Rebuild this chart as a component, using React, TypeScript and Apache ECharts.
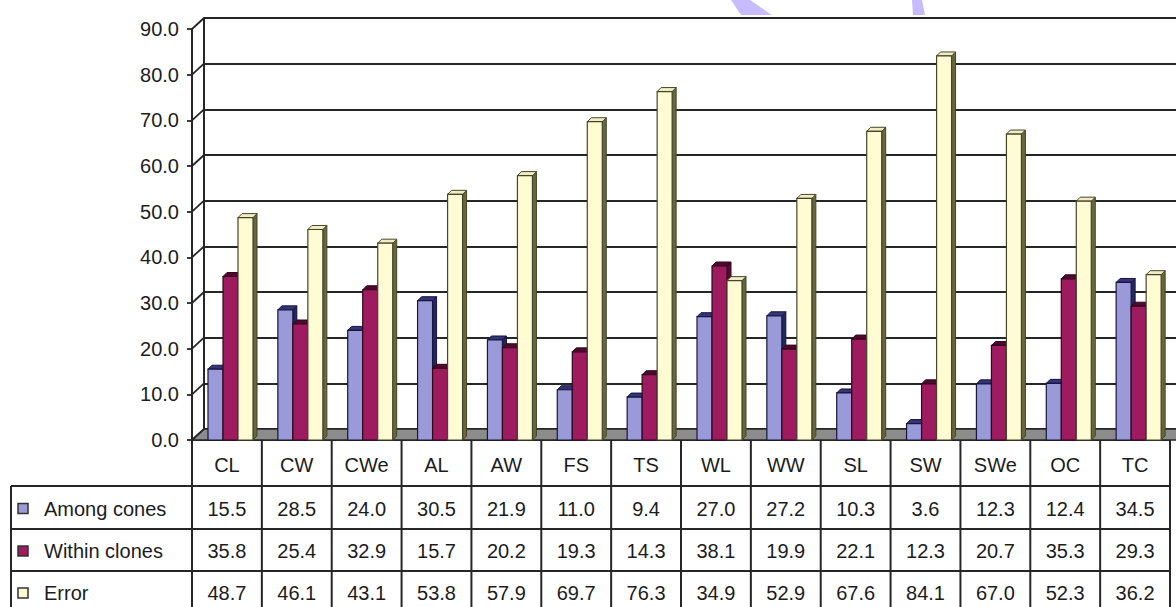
import React, { useEffect, useRef } from "react";
import * as echarts from "echarts";

const categories = ["CL", "CW", "CWe", "AL", "AW", "FS", "TS", "WL", "WW", "SL", "SW", "SWe", "OC", "TC"];
const seriesNames = ["Among cones", "Within clones", "Error"];
const amongCones = [15.5, 28.5, 24.0, 30.5, 21.9, 11.0, 9.4, 27.0, 27.2, 10.3, 3.6, 12.3, 12.4, 34.5];
const withinClones = [35.8, 25.4, 32.9, 15.7, 20.2, 19.3, 14.3, 38.1, 19.9, 22.1, 12.3, 20.7, 35.3, 29.3];
const errorVals = [48.7, 46.1, 43.1, 53.8, 57.9, 69.7, 76.3, 34.9, 52.9, 67.6, 84.1, 67.0, 52.3, 36.2];
const yTicks = [0, 10, 20, 30, 40, 50, 60, 70, 80, 90];

const allSeries = [amongCones, withinClones, errorVals];

const FONT = "Liberation Sans, Arial, Helvetica, sans-serif";
const LINE = "#262626";

const faces = [
  { front: "#9a9ad9", top: "#34347a", side: "#262660", stroke: "#16163e" },
  { front: "#9d1b5e", top: "#4e0a2e", side: "#520b30", stroke: "#33061d" },
  { front: "#fffbd3", top: "#f1edc2", side: "#67673f", stroke: "#45452a" },
];

const DX = 12; // back-wall offset
const DY = 11;
const BW = 15; // bar width
const BOFF = 16; // first bar offset from band start
const BD = 4; // bar depth

function barRenderer(k: number) {
  return (params: any, api: any) => {
    const i = api.value(0);
    const v = api.value(1);
    const top = api.coord([i, v]);
    const base = api.coord([i, 0]);
    const band = api.size([1, 0])[0];
    const x = top[0] - band / 2 + BOFF + k * BW;
    const yt = top[1];
    const yb = base[1];
    const f = faces[k];
    return {
      type: "group",
      children: [
        {
          type: "polygon",
          shape: { points: [[x + BW, yt], [x + BW + BD, yt - BD], [x + BW + BD, yb - BD], [x + BW, yb]] },
          style: { fill: f.side, stroke: f.stroke, lineWidth: 1 },
        },
        {
          type: "polygon",
          shape: { points: [[x, yt], [x + BD, yt - BD], [x + BW + BD, yt - BD], [x + BW, yt]] },
          style: { fill: f.top, stroke: f.stroke, lineWidth: 1 },
        },
        {
          type: "rect",
          shape: { x, y: yt, width: BW, height: yb - yt },
          style: { fill: f.front, stroke: f.stroke, lineWidth: 1.2 },
        },
      ],
    };
  };
}

function frameRenderer(params: any, api: any) {
  const cs = params.coordSys;
  const x0 = cs.x;
  const yb = cs.y + cs.height;
  const W = api.getWidth();
  const children: any[] = [
    {
      type: "polygon",
      shape: { points: [[x0, yb], [x0 + DX, yb - DY], [W + 5, yb - DY], [W + 5, yb]] },
      style: { fill: "#8c8c8c", stroke: LINE, lineWidth: 1.5 },
    },
  ];
  yTicks.forEach((t) => {
    const y = api.coord([0, t])[1];
    children.push({
      type: "line",
      shape: { x1: x0, y1: y, x2: x0 + DX, y2: y - DY },
      style: { stroke: LINE, lineWidth: 1.8 },
    });
  });
  return { type: "group", children };
}

const rowTops = [486, 529, 571, 613];

function tableRenderer(params: any, api: any) {
  const i = api.value(0);
  const cs = params.coordSys;
  const yb = cs.y + cs.height;
  const center = api.coord([i, 0]);
  const band = api.size([1, 0])[0];
  const left = center[0] - band / 2;
  const right = left + band;
  const cx = center[0];
  const children: any[] = [];
  const txt = (text: string, x: number, y: number, align = "center") => ({
    type: "text",
    style: {
      text,
      x,
      y,
      fill: "#1c1c1c",
      fontSize: 20,
      fontFamily: FONT,
      align,
      verticalAlign: "middle",
    },
  });
  const ln = (x1: number, y1: number, x2: number, y2: number) => ({
    type: "line",
    shape: { x1, y1, x2, y2 },
    style: { stroke: LINE, lineWidth: 2 },
  });
  children.push(ln(left, yb, left, 620));
  if (i === categories.length - 1) children.push(ln(right, yb, right, 620));
  rowTops.slice(0, 3).forEach((y) => children.push(ln(left, y, right, y)));
  children.push(txt(categories[i], cx, (yb + rowTops[0]) / 2 + 2));
  allSeries.forEach((vals, r) => {
    children.push(txt(vals[i].toFixed(1), cx, (rowTops[r] + rowTops[r + 1]) / 2 + 1));
  });
  if (i === 0) {
    const lx = 11;
    children.push(ln(lx, rowTops[0], lx, 620));
    rowTops.slice(0, 3).forEach((y) => children.push(ln(lx, y, left, y)));
    seriesNames.forEach((name, r) => {
      const my = (rowTops[r] + rowTops[r + 1]) / 2 + 1;
      children.push({
        type: "rect",
        shape: { x: 18, y: my - 5, width: 10, height: 10 },
        style: { fill: faces[r].front, stroke: "#333", lineWidth: 1.5 },
      });
      children.push(txt(name, 44, my, "left"));
    });
  }
  return { type: "group", children };
}

const option: any = {
  animation: false,
  backgroundColor: "#ffffff",
  grid: [
    { left: 192, right: 6, top: 29, bottom: 167 },
    { left: 192 + DX, right: 0, top: 29 - DY, bottom: 167 + DY },
  ],
  xAxis: [
    {
      type: "category",
      gridIndex: 0,
      data: categories,
      axisLabel: { show: false },
      axisTick: { show: false },
      axisLine: { show: true, lineStyle: { color: LINE, width: 2 } },
      splitLine: { show: false },
    },
    {
      type: "category",
      gridIndex: 1,
      data: categories,
      show: false,
    },
  ],
  yAxis: [
    {
      type: "value",
      gridIndex: 0,
      min: 0,
      max: 90,
      interval: 10,
      axisLine: { show: true, lineStyle: { color: LINE, width: 2 } },
      axisTick: { show: true, length: 5, lineStyle: { color: LINE, width: 1.8 } },
      axisLabel: {
        formatter: (v: number) => v.toFixed(1),
        fontSize: 20,
        fontFamily: FONT,
        color: "#1c1c1c",
        margin: 13,
      },
      splitLine: { show: false },
    },
    {
      type: "value",
      gridIndex: 1,
      min: 0,
      max: 90,
      interval: 10,
      axisLine: { show: true, lineStyle: { color: LINE, width: 2 } },
      axisTick: { show: false },
      axisLabel: { show: false },
      splitLine: { show: true, lineStyle: { color: LINE, width: 2 } },
    },
  ],
  series: [
    {
      type: "custom",
      name: "frame",
      xAxisIndex: 0,
      yAxisIndex: 0,
      z: 1,
      renderItem: frameRenderer,
      data: [[0, 0]],
      encode: { x: 0, y: 1 },
      silent: true,
    },
    ...allSeries.map((vals, k) => ({
      type: "custom",
      name: seriesNames[k],
      xAxisIndex: 0,
      yAxisIndex: 0,
      z: 3,
      renderItem: barRenderer(k),
      data: vals.map((v, i) => [i, v]),
      encode: { x: 0, y: 1 },
    })),
    {
      type: "custom",
      name: "table",
      xAxisIndex: 0,
      yAxisIndex: 0,
      z: 4,
      renderItem: tableRenderer,
      data: categories.map((c, i) => [i, 0]),
      encode: { x: 0, y: 1 },
      silent: true,
    },
  ],
  graphic: [
    {
      type: "polygon",
      shape: { points: [[731, 0], [750, 0], [772, 15], [741, 15]] },
      style: { fill: "#c9bbff" },
      z: 10,
    },
    {
      type: "polygon",
      shape: { points: [[912, 0], [922, 0], [925, 15], [913, 15]] },
      style: { fill: "#c9bbff" },
      z: 10,
    },
  ],
};

export default function App() {
  const ref = useRef<HTMLDivElement>(null);
  useEffect(() => {
    const chart = echarts.init(ref.current!, null, { renderer: "svg" });
    chart.setOption(option);
    return () => chart.dispose();
  }, []);
  return (
    <div
      ref={ref}
      style={{ width: 1176, height: 607, position: "absolute", left: 0, top: 0, background: "#fff" }}
    />
  );
}
